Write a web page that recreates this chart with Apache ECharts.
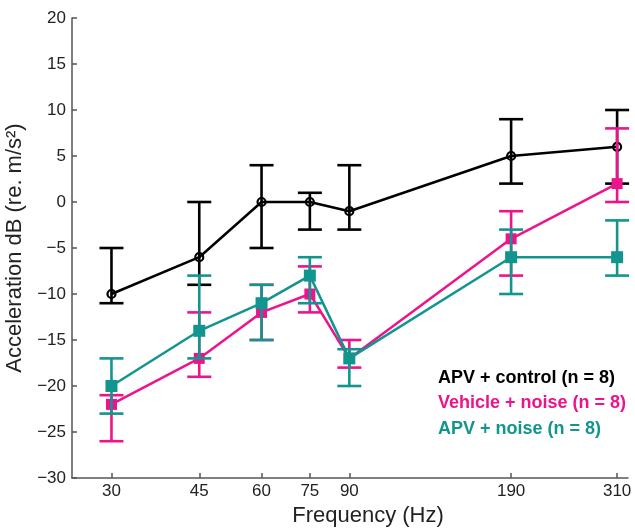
<!DOCTYPE html>
<html>
<head>
<meta charset="utf-8">
<script src="https://cdn.jsdelivr.net/npm/echarts@6/dist/echarts.min.js"></script>
<style>
html,body{margin:0;padding:0;background:#fff;}
#chart{width:635px;height:531px;}
</style>
</head>
<body>
<div id="chart"></div>
<script>
// Frequencies (Hz)
const freqs = [30, 45, 60, 75, 90, 190, 310];
// APV + control
const ctrlMean = [-10, -6, 0, 0, -1, 5, 6];
const ctrlLow  = [-11, -9, -5, -3, -3, 2, 2];
const ctrlHigh = [-5, 0, 4, 1, 4, 9, 10];
// Vehicle + noise
const vehMean = [-22, -17, -12, -10, -17, -4, 2];
const vehLow  = [-26, -19, -15, -12, -18, -8, 0];
const vehHigh = [-21, -12, -9, -7, -15, -1, 8];
// APV + noise
const apvMean = [-20, -14, -11, -8, -17, -6, -6];
const apvLow  = [-23, -17, -15, -11, -20, -10, -8];
const apvHigh = [-17, -8, -9, -6, -16, -3, -2];

const names = ['APV + control (n = 8)', 'Vehicle + noise (n = 8)', 'APV + noise (n = 8)'];
const colors = ['#000000', '#ec148c', '#12958f'];

function pts(means) { return freqs.map((f, i) => [f, means[i]]); }
function errs(lo, hi) { return freqs.map((f, i) => [f, lo[i], hi[i]]); }

function errRender(color) {
  return function (params, api) {
    const x = api.value(0);
    const p1 = api.coord([x, api.value(1)]);
    const p2 = api.coord([x, api.value(2)]);
    const hw = 12;
    const st = { stroke: color, lineWidth: 2.6 };
    return {
      type: 'group',
      children: [
        { type: 'line', shape: { x1: p1[0], y1: p1[1], x2: p2[0], y2: p2[1] }, style: st },
        { type: 'line', shape: { x1: p1[0] - hw, y1: p1[1], x2: p1[0] + hw, y2: p1[1] }, style: st },
        { type: 'line', shape: { x1: p2[0] - hw, y1: p2[1], x2: p2[0] + hw, y2: p2[1] }, style: st }
      ]
    };
  };
}

const font = 'Liberation Sans, Arial, sans-serif';
const chart = echarts.init(document.getElementById('chart'));
chart.setOption({
  animation: false,
  backgroundColor: '#fff',
  grid: { left: 72, right: 7, top: 18, bottom: 53, containLabel: false, outerBoundsMode: 'none' },
  legend: {
    orient: 'vertical',
    left: 428,
    top: 364,
    icon: 'none',
    itemWidth: 0,
    itemHeight: 14,
    itemGap: 7.5,
    selectedMode: false,
    data: names.map((n, i) => ({ name: n, textStyle: { color: colors[i] } })),
    textStyle: { fontFamily: font, fontSize: 18, fontWeight: 'bold' }
  },
  xAxis: {
    type: 'log',
    logBase: 10,
    min: 25,
    max: 326,
    name: 'Frequency (Hz)',
    nameLocation: 'middle',
    nameGap: 25,
    nameTextStyle: { fontFamily: font, fontSize: 22, color: '#222', padding: [0, 0, 0, 36] },
    axisLine: { onZero: false, lineStyle: { color: '#555', width: 1.5 } },
    axisTick: { inside: true, length: 5, lineStyle: { color: '#555', width: 1.5 }, customValues: freqs },
    axisLabel: { customValues: freqs, fontFamily: font, fontSize: 17, color: '#222', margin: 5, formatter: v => String(Math.round(v)) },
    splitLine: { show: false },
    minorTick: { show: false }
  },
  yAxis: {
    type: 'value',
    min: -30,
    max: 20,
    interval: 5,
    name: 'Acceleration dB (re. m/s²)',
    nameLocation: 'middle',
    nameGap: 39,
    nameTextStyle: { fontFamily: font, fontSize: 22, color: '#222' },
    axisLine: { show: true, lineStyle: { color: '#555', width: 1.5 } },
    axisTick: { show: true, inside: true, length: 5, lineStyle: { color: '#555', width: 1.5 } },
    axisLabel: { fontFamily: font, fontSize: 17, color: '#222', margin: 6, formatter: v => v < 0 ? '\u2212' + Math.abs(v) : String(v) },
    splitLine: { show: false }
  },
  series: [
    { type: 'custom', name: names[0], renderItem: errRender(colors[0]), data: errs(ctrlLow, ctrlHigh), encode: { x: 0, y: [1, 2] }, z: 2 },
    { type: 'line', name: names[0], data: pts(ctrlMean), symbol: 'circle', symbolSize: 8,
      itemStyle: { color: 'rgba(255,255,255,0)', borderColor: colors[0], borderWidth: 2.2 },
      lineStyle: { color: colors[0], width: 2.5 }, z: 3 },
    { type: 'custom', name: names[1], renderItem: errRender(colors[1]), data: errs(vehLow, vehHigh), encode: { x: 0, y: [1, 2] }, z: 4 },
    { type: 'line', name: names[1], data: pts(vehMean), symbol: 'rect', symbolSize: 11,
      itemStyle: { color: colors[1] }, lineStyle: { color: colors[1], width: 2.5 }, z: 5 },
    { type: 'custom', name: names[2], renderItem: errRender(colors[2]), data: errs(apvLow, apvHigh), encode: { x: 0, y: [1, 2] }, z: 6 },
    { type: 'line', name: names[2], data: pts(apvMean), symbol: 'rect', symbolSize: 12,
      itemStyle: { color: colors[2] }, lineStyle: { color: colors[2], width: 2.5 }, z: 7 }
  ]
});
</script>
</body>
</html>
